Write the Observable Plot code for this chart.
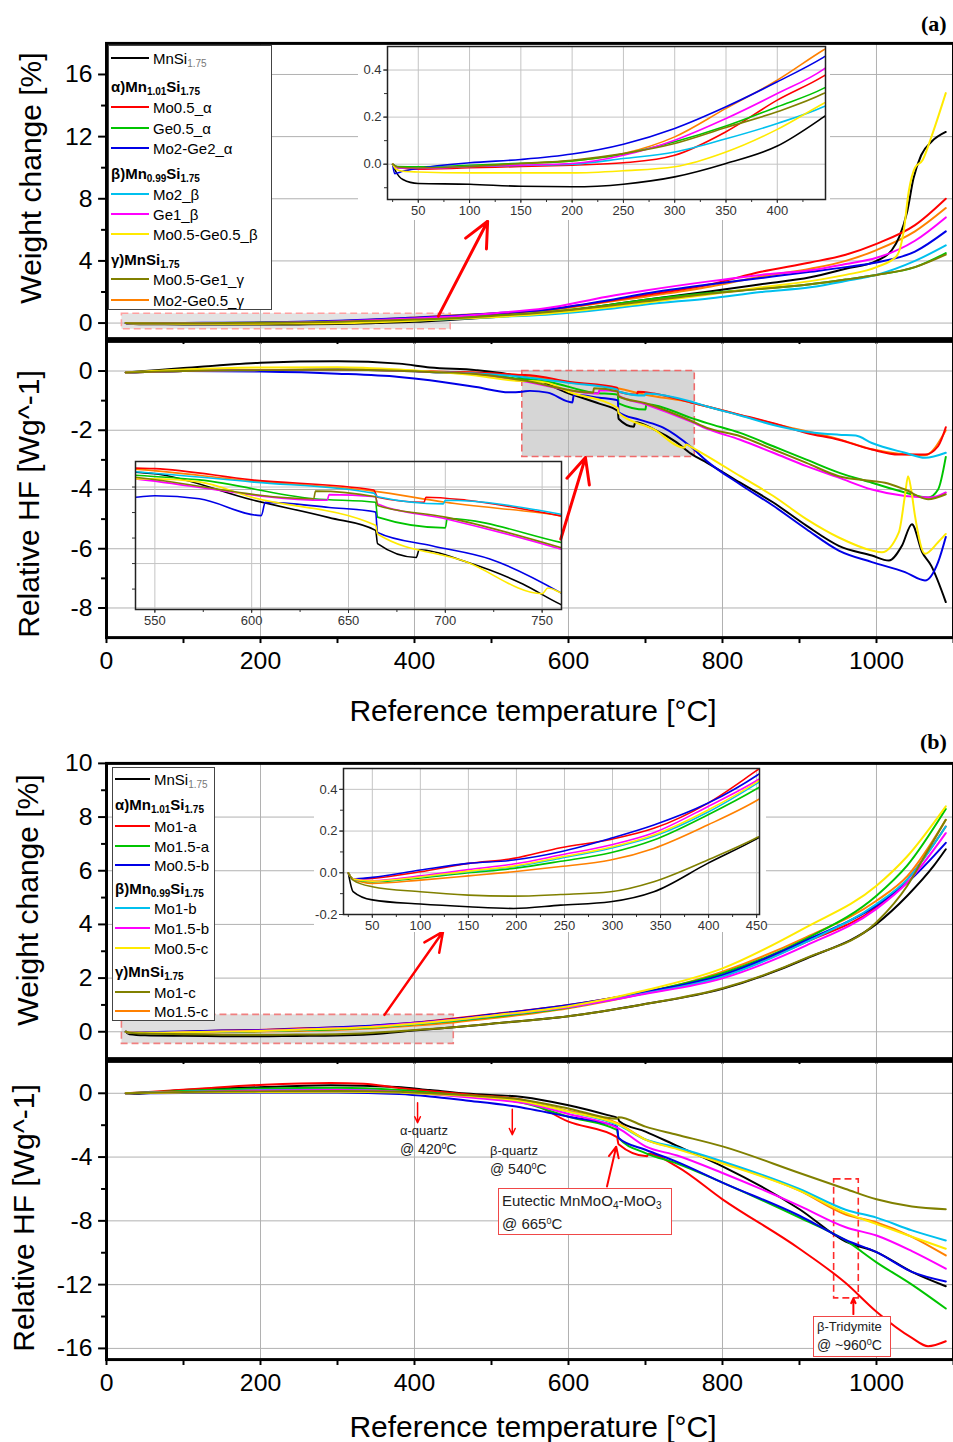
<!DOCTYPE html>
<html>
<head>
<meta charset="utf-8">
<script src="https://cdn.jsdelivr.net/npm/d3@7"></script>
<script src="https://cdn.jsdelivr.net/npm/@observablehq/plot@0.6"></script>
<style>
html,body{margin:0;padding:0;background:#fff;}
#fig{position:relative;width:953px;height:1442px;overflow:hidden;background:#fff;font-family:"Liberation Sans",Arial,sans-serif;color:#000;}
#fig > *{position:absolute;}
.ytitle{width:340px;height:36px;line-height:36px;text-align:center;font-size:30px;transform:rotate(-90deg);white-space:nowrap;}
.xtitle{width:500px;height:36px;line-height:36px;text-align:center;font-size:30px;white-space:nowrap;}
.tag{font-family:"Liberation Serif","Times New Roman",serif;font-weight:bold;font-size:22px;white-space:nowrap;}
.legend{background:#fff;border:1px solid #444;box-sizing:border-box;font-size:15px;}
.legend .row{position:absolute;left:0;height:20px;display:flex;align-items:center;white-space:nowrap;}
.legend .sw{height:0;border-top:2.5px solid;margin-left:2px;margin-right:4px;}
.legend .hdr{font-weight:bold;padding-left:2px;}
.legend sub{font-size:10px;vertical-align:-3px;line-height:0;}
.legend sub.g{color:#777;}
.ann{font-size:13px;line-height:19px;white-space:nowrap;color:#222;}
.ann sup{font-size:9px;vertical-align:5px;line-height:0;}
.ann sub{font-size:10px;vertical-align:-3px;line-height:0;}
.box{border:1px solid #f04848;box-sizing:border-box;padding-left:3px;background:#fff;}
</style>
</head>
<body>
<div id="fig"></div>
<script>
// ---------- series meta ----------
const COLORS = ["#000000","#ff0000","#00c400","#0000e6","#00c0ee","#ff00ff","#ffea00","#808000","#ff8000"];
const NAMES_A = ["MnSi","Mo0.5_α","Ge0.5_α","Mo2-Ge2_α","Mo2_β","Ge1_β","Mo0.5-Ge0.5_β","Mo0.5-Ge1_γ","Mo2-Ge0.5_γ"];
const NAMES_B = ["MnSi","Mo1-a","Mo1.5-a","Mo0.5-b","Mo1-b","Mo1.5-b","Mo0.5-c","Mo1-c","Mo1.5-c"];
const GROUPS = ["α)Mn<sub>1.01</sub>Si<sub>1.75</sub>","β)Mn<sub>0.99</sub>Si<sub>1.75</sub>","γ)MnSi<sub>1.75</sub>"];
const TEMP_TICKS = [0,200,400,600,800,1000];

// ---------- (a) weight change [%] : [T, value] ----------
const weightA = [
 [[25,0],[28,-0.03],[35,-0.065],[50,-0.082],[100,-0.085],[150,-0.094],[200,-0.096],[250,-0.085],[300,-0.054],[350,0.003],[400,0.077],[445,0.2],[500,0.38],[570,0.65],[650,1.15],[700,1.5],[785,2.05],[850,2.5],[914,2.95],[960,3.5],[1000,4.0],[1020,4.7],[1030,5.6],[1040,7.2],[1048,9.3],[1058,10.8],[1072,11.7],[1090,12.3]],
 [[25,0],[30,-0.015],[50,-0.021],[100,-0.015],[150,-0.01],[200,-0.004],[250,0.006],[300,0.038],[350,0.138],[400,0.272],[445,0.374],[500,0.55],[570,0.85],[650,1.4],[700,1.8],[785,2.5],[850,3.3],[914,3.9],[960,4.4],[1000,5.1],[1050,6.3],[1090,8.0]],
 [[25,0],[30,-0.01],[50,-0.011],[100,-0.005],[150,0.004],[200,0.014],[250,0.043],[300,0.095],[350,0.162],[400,0.244],[445,0.322],[500,0.48],[570,0.7],[650,1.15],[700,1.5],[785,1.95],[850,2.2],[914,2.5],[960,2.8],[1000,3.1],[1050,3.6],[1090,4.5]],
 [[25,0],[27,-0.04],[35,-0.03],[50,-0.018],[100,0.006],[150,0.02],[200,0.043],[250,0.085],[300,0.152],[350,0.244],[400,0.35],[445,0.454],[500,0.62],[570,0.85],[650,1.45],[700,1.9],[785,2.5],[850,2.9],[914,3.3],[960,3.6],[1000,3.9],[1050,4.6],[1090,5.9]],
 [[25,0],[30,-0.015],[50,-0.016],[100,-0.01],[150,-0.005],[200,0],[250,0.024],[300,0.052],[350,0.108],[400,0.173],[445,0.244],[500,0.38],[570,0.53],[650,0.9],[700,1.2],[785,1.6],[850,2.0],[914,2.3],[960,2.7],[1000,3.1],[1050,4.0],[1090,5.0]],
 [[25,0],[30,-0.015],[50,-0.018],[100,-0.01],[150,-0.004],[200,0.003],[250,0.038],[300,0.102],[350,0.194],[400,0.3],[445,0.403],[500,0.62],[570,0.95],[650,1.7],[700,2.1],[785,2.7],[850,3.1],[914,3.4],[960,3.8],[1000,4.2],[1050,5.3],[1090,6.8]],
 [[25,0],[28,-0.02],[35,-0.03],[50,-0.033],[100,-0.037],[150,-0.037],[200,-0.037],[250,-0.028],[300,-0.011],[350,0.052],[400,0.148],[445,0.258],[500,0.38],[570,0.6],[650,1.0],[700,1.3],[785,1.85],[850,2.3],[914,2.7],[960,3.1],[1000,3.6],[1026,4.3],[1035,5.8],[1042,8.5],[1050,10.0],[1060,10.5],[1070,11.8],[1090,14.8]],
 [[25,0],[30,-0.012],[50,-0.016],[100,-0.01],[150,0.003],[200,0.017],[250,0.045],[300,0.088],[350,0.156],[400,0.223],[445,0.3],[500,0.45],[570,0.7],[650,1.1],[700,1.4],[785,1.9],[850,2.2],[914,2.5],[960,2.8],[1000,3.1],[1050,3.6],[1090,4.4]],
 [[25,0],[30,-0.015],[50,-0.018],[100,-0.01],[150,0.003],[200,0.014],[250,0.045],[300,0.116],[350,0.237],[400,0.357],[445,0.485],[500,0.62],[570,0.8],[650,1.35],[700,1.7],[785,2.35],[850,3.0],[914,3.5],[960,4.0],[1000,4.7],[1050,5.9],[1090,7.4]]
];

// ---------- (a) relative heat flow [W/g] ----------
const heatA = [
 [[25,-0.05],[50,0],[100,0.1],[200,0.28],[300,0.33],[380,0.25],[420,0.12],[480,0.03],[520,-0.1],[540,-0.21],[550,-0.24],[600,-0.75],[640,-1.1],[664,-1.35],[665,-1.61],[685,-1.88],[686.5,-1.73],[711,-1.97],[740,-2.4],[759,-2.79],[780,-3.1],[823,-3.77],[866,-4.44],[909,-5.22],[951,-5.9],[994,-6.23],[1016,-6.4],[1033,-5.9],[1046,-5.17],[1059,-6.1],[1071,-6.57],[1090,-7.8]],
 [[25,-0.05],[100,0],[200,0.03],[300,0.05],[380,0.02],[420,-0.02],[480,-0.05],[540,-0.13],[550,-0.14],[600,-0.36],[663,-0.56],[665,-0.7],[689,-0.8],[690,-0.7],[711,-0.76],[759,-1.06],[780,-1.2],[823,-1.48],[866,-1.76],[909,-2.09],[951,-2.32],[994,-2.65],[1029,-2.82],[1063,-2.82],[1080,-2.54],[1090,-1.9]],
 [[25,-0.05],[100,0],[200,0.03],[300,0.04],[380,0.01],[420,-0.03],[480,-0.1],[540,-0.27],[573,-0.36],[632,-0.73],[664,-0.8],[665,-1.09],[700,-1.3],[701,-1.12],[759,-1.58],[780,-1.76],[823,-2.09],[866,-2.54],[909,-2.99],[951,-3.43],[994,-3.77],[1037,-4.1],[1067,-4.27],[1080,-4.0],[1090,-2.9]],
 [[25,-0.05],[100,0],[200,-0.02],[300,-0.09],[380,-0.2],[420,-0.31],[480,-0.54],[523,-0.72],[540,-0.7],[550,-0.67],[573,-0.73],[605,-1.06],[607,-0.8],[640,-0.9],[664,-0.99],[665,-1.39],[693,-1.65],[723,-1.91],[759,-2.56],[780,-3.05],[823,-3.83],[866,-4.55],[909,-5.34],[951,-6.06],[994,-6.45],[1037,-6.79],[1063,-7.07],[1080,-6.45],[1090,-5.6]],
 [[25,-0.05],[100,0],[200,0.03],[300,0.05],[380,0.02],[420,-0.03],[480,-0.08],[540,-0.2],[600,-0.4],[663,-0.62],[665,-0.69],[699,-0.83],[700,-0.76],[759,-1.03],[780,-1.2],[823,-1.5],[866,-1.82],[909,-2.05],[951,-2.15],[973,-2.18],[994,-2.43],[1037,-2.76],[1063,-2.93],[1090,-2.76]],
 [[25,-0.05],[100,0],[200,0.03],[300,0.04],[380,0.01],[420,-0.03],[480,-0.1],[540,-0.34],[639,-0.76],[640,-0.65],[664,-0.69],[665,-0.83],[700,-1.12],[759,-1.71],[780,-1.95],[823,-2.32],[866,-2.76],[909,-3.21],[951,-3.6],[994,-4.0],[1037,-4.22],[1071,-4.27],[1090,-4.1]],
 [[25,-0.05],[100,0.05],[200,0.12],[300,0.13],[380,0.05],[420,-0.02],[480,-0.15],[540,-0.34],[550,-0.34],[573,-0.4],[600,-0.7],[664,-1.25],[665,-1.42],[711,-1.97],[750,-2.59],[753,-2.48],[759,-2.56],[780,-2.87],[823,-3.55],[866,-4.22],[909,-5.0],[951,-5.62],[994,-6.06],[1007,-6.12],[1029,-5.45],[1037,-4.2],[1041,-3.55],[1045,-4.0],[1050,-4.89],[1063,-6.17],[1080,-5.78],[1090,-5.5]],
 [[25,-0.05],[100,0],[200,0.03],[300,0.04],[380,0.01],[420,-0.03],[480,-0.1],[540,-0.31],[632,-0.73],[633,-0.58],[664,-0.69],[665,-0.86],[700,-1.09],[759,-1.68],[780,-1.92],[823,-2.2],[866,-2.65],[909,-3.1],[951,-3.55],[994,-3.71],[1011,-3.77],[1037,-4.0],[1067,-4.33],[1090,-4.16]],
 [[25,-0.05],[100,0],[200,0.03],[300,0.05],[380,0.02],[420,-0.02],[480,-0.06],[540,-0.15],[600,-0.38],[663,-0.58],[700,-0.8],[759,-1.06],[780,-1.2],[866,-1.78],[951,-2.3],[994,-2.64],[1063,-2.84],[1090,-2.0]]
];

// ---------- (b) weight change [%] ----------
const weightB = [
 [[25,0],[30,-0.09],[50,-0.13],[100,-0.15],[150,-0.163],[197,-0.171],[246,-0.155],[298,-0.139],[343,-0.091],[399,0.045],[451,0.165],[500,0.3],[600,0.58],[693,1.0],[800,1.6],[909,2.73],[1000,4.02],[1040,5.07],[1074,6.17],[1090,6.8]],
 [[25,0],[30,-0.03],[50,-0.027],[100,0.005],[150,0.045],[197,0.069],[246,0.12],[298,0.16],[343,0.213],[399,0.333],[451,0.493],[500,0.65],[600,1.0],[693,1.45],[800,2.09],[909,3.35],[1000,4.64],[1040,5.68],[1090,7.65]],
 [[25,0],[30,-0.03],[50,-0.043],[100,-0.025],[150,0.0],[197,0.021],[246,0.055],[298,0.096],[343,0.157],[399,0.277],[451,0.405],[500,0.55],[600,0.9],[693,1.44],[800,2.18],[909,3.47],[1000,5.07],[1040,6.2],[1090,8.3]],
 [[25,0],[30,-0.03],[50,-0.022],[100,0.013],[150,0.045],[197,0.061],[246,0.101],[298,0.165],[343,0.229],[399,0.333],[451,0.469],[500,0.64],[600,1.0],[693,1.45],[800,2.12],[909,3.41],[1000,4.7],[1040,5.56],[1090,7.04]],
 [[25,0],[30,-0.03],[50,-0.04],[100,-0.02],[150,0.005],[197,0.029],[246,0.07],[298,0.118],[343,0.175],[399,0.29],[451,0.43],[500,0.58],[600,0.92],[693,1.4],[800,2.05],[909,3.35],[1000,4.76],[1040,5.68],[1090,7.65]],
 [[25,0],[30,-0.03],[50,-0.038],[100,-0.015],[150,0.015],[197,0.042],[246,0.085],[298,0.133],[343,0.192],[399,0.317],[451,0.445],[500,0.6],[600,0.92],[693,1.38],[800,1.99],[909,3.22],[1000,4.58],[1040,5.56],[1090,7.4]],
 [[25,0],[30,-0.03],[50,-0.04],[100,-0.02],[150,0.008],[197,0.032],[246,0.075],[298,0.122],[343,0.181],[399,0.3],[451,0.437],[500,0.6],[600,0.95],[693,1.5],[800,2.36],[909,3.9],[1000,5.44],[1040,6.54],[1090,8.4]],
 [[25,0],[30,-0.035],[50,-0.067],[100,-0.091],[150,-0.107],[197,-0.112],[246,-0.104],[298,-0.091],[343,-0.043],[399,0.061],[451,0.17],[500,0.3],[600,0.58],[693,1.0],[800,1.62],[909,2.75],[1000,4.08],[1040,5.44],[1065,6.67],[1090,7.9]],
 [[25,0],[30,-0.03],[50,-0.051],[100,-0.035],[150,-0.015],[197,0.005],[246,0.03],[298,0.061],[343,0.117],[399,0.229],[451,0.349],[500,0.5],[600,0.88],[693,1.4],[800,2.24],[909,3.53],[1000,4.88],[1040,5.8],[1090,7.9]]
];

// ---------- (b) relative heat flow [W/g] ----------
const heatB = [
 [[25,0],[35,-0.03],[100,0.2],[205,0.39],[291,0.5],[377,0.4],[420,0.2],[467,-0.02],[540,-0.23],[600,-0.75],[651,-1.37],[664,-1.55],[666,-1.75],[700,-2.4],[741,-3.3],[800,-4.58],[900,-7.27],[960,-9.3],[1000,-9.96],[1046,-11.2],[1090,-12.1]],
 [[25,0],[60,0.1],[120,0.29],[205,0.54],[291,0.64],[334,0.6],[377,0.35],[420,0.14],[480,-0.12],[540,-0.4],[600,-1.78],[663,-2.75],[665,-3.2],[702,-3.95],[704,-3.79],[741,-4.6],[800,-6.65],[900,-9.75],[960,-11.9],[1000,-13.7],[1046,-15.34],[1067,-15.86],[1090,-15.55]],
 [[25,0],[100,0.15],[200,0.3],[300,0.35],[380,0.2],[420,0.05],[480,-0.2],[540,-0.6],[600,-1.47],[663,-2.3],[665,-2.8],[700,-3.75],[741,-4.4],[800,-5.6],[900,-7.8],[960,-9.23],[1000,-10.6],[1046,-12.0],[1090,-13.5]],
 [[25,0],[100,0.02],[200,0.05],[300,0.05],[380,-0.05],[420,-0.2],[467,-0.45],[527,-0.8],[600,-1.47],[663,-2.1],[665,-2.8],[700,-3.54],[741,-4.3],[800,-5.6],[900,-7.68],[960,-9.2],[1000,-9.96],[1046,-11.2],[1090,-11.8]],
 [[25,0],[100,0.1],[200,0.2],[300,0.22],[380,0.1],[420,-0.05],[480,-0.25],[540,-0.55],[600,-1.15],[665,-2.0],[700,-2.9],[741,-3.4],[800,-4.27],[900,-6.0],[960,-7.3],[1000,-7.8],[1046,-8.6],[1090,-9.23]],
 [[25,0],[100,0.08],[200,0.18],[300,0.2],[380,0.1],[420,-0.05],[480,-0.3],[540,-0.6],[600,-1.3],[665,-2.2],[700,-3.33],[741,-3.9],[800,-5.0],[900,-7.06],[960,-8.4],[1000,-8.92],[1046,-9.9],[1090,-11.0]],
 [[25,0],[100,0.05],[200,0.08],[300,0.1],[380,0.05],[420,-0.05],[480,-0.2],[540,-0.5],[600,-1.15],[665,-1.95],[700,-2.9],[741,-3.5],[800,-4.4],[900,-6.1],[960,-7.5],[1000,-8.2],[1046,-9.0],[1090,-9.75]],
 [[25,0],[100,0.08],[200,0.12],[300,0.15],[380,0.1],[420,0.0],[480,-0.15],[540,-0.4],[600,-0.95],[663,-1.6],[665,-1.5],[700,-2.09],[741,-2.6],[800,-3.33],[900,-5.0],[960,-6.0],[1000,-6.65],[1046,-7.1],[1090,-7.27]],
 [[25,0],[100,0.12],[200,0.25],[300,0.28],[380,0.15],[420,0.0],[480,-0.2],[540,-0.5],[600,-1.1],[665,-1.9],[700,-2.9],[741,-3.45],[800,-4.35],[900,-6.1],[960,-7.6],[1000,-8.1],[1046,-9.0],[1090,-10.17]]
];

// ---------- annotation anchors (data coordinates) ----------
const zoomRegions = {
  aW: {x1:20, x2:447, y1:-0.4, y2:0.6, fill:"#c8c8c8", fo:0.5, stroke:"#ffa0a0"},
  aH: {x1:540, x2:764, y1:-2.9, y2:0, fill:"#b4b4b4", fo:0.55, stroke:"#f06a6a"},
  bW: {x1:20, x2:451, y1:-0.45, y2:0.63, fill:"#c0c0c0", fo:0.5, stroke:"#f08080"},
  bH: {x1:945, x2:977, y1:-12.86, y2:-5.4, fill:"none", fo:1, stroke:"#ff2a2a"}
};
const arrowsA_W = [{x1:431, y1:0.45, x2:495, y2:6.55, w:3, head:14}];
const arrowsA_H = [{x1:590, y1:-5.67, x2:622, y2:-2.92, w:3, head:14}];
const arrowsB_W = [{x1:361, y1:0.63, x2:437, y2:3.73, w:2.5, head:13}];
const arrowsB_H = [
  {x1:404, y1:-0.6, x2:404, y2:-1.85, w:1.5, head:7},
  {x1:527, y1:-1.0, x2:527, y2:-2.6, w:1.5, head:7},
  {x1:650, y1:-5.84, x2:662, y2:-3.35, w:2, head:9},
  {x1:970, y1:-13.85, x2:970, y2:-12.86, w:2, head:7}
];
const notesB_H = [
  {T:377, v:-1.75, cls:"ann", html:"α-quartz<br><span style='font-size:14px'>@ 420<sup>0</sup>C</span>"},
  {T:493, v:-2.95, cls:"ann", html:"β-quartz<br><span style='font-size:14px'>@ 540<sup>0</sup>C</span>"},
  {T:503, v:-5.9, cls:"ann box", w:174, h:47, html:"<span style='font-size:15px;line-height:23px'>Eutectic MnMoO<sub>4</sub>-MoO<sub>3</sub><br>@ 665<sup>0</sup>C</span>"},
  {T:908, v:-13.85, cls:"ann box", w:78, h:41, html:"β-Tridymite<br><span style='font-size:14px'>@ ~960<sup>0</sup>C</span>"}
];

// ---------- layout helpers ----------
const fig = document.getElementById("fig");
const X0 = 107, XMAX = 1100, PX_PER_C = 0.7775;
const W = X0 + Math.round(XMAX * PX_PER_C);
const FONT = "Liberation Sans, Arial, sans-serif";
const ORDER = [8,0,1,2,3,4,5,6,7];

function addAbs(el, left, top) { el.style.left = left + "px"; el.style.top = top + "px"; fig.appendChild(el); return el; }

function mainPanel(c) {
  const mt = 10, mb = c.xLabels ? 50 : 10;
  const h = c.bottom - c.top;
  const marks = [
    Plot.gridX({ticks: [200,400,600,800,1000], stroke: "#b0b0b0", strokeOpacity: 1}),
    Plot.gridY({ticks: c.yMajor, stroke: "#b0b0b0", strokeOpacity: 1})
  ];
  for (const r of c.rects) marks.push(Plot.rect([r], {x1: "x1", x2: "x2", y1: "y1", y2: "y2", fill: r.fill, fillOpacity: r.fo, stroke: r.stroke, strokeWidth: 1.6, strokeDasharray: "7,4"}));
  for (const i of ORDER) marks.push(Plot.line(c.data[i], {x: d => d[0], y: d => d[1], stroke: COLORS[i], strokeWidth: 2, curve: "monotone-x", clip: true}));
  for (const a of c.arrows) marks.push(Plot.arrow([a], {x1: "x1", y1: "y1", x2: "x2", y2: "y2", stroke: "#ff0000", strokeWidth: a.w, headLength: a.head, headAngle: 50}));
  marks.push(Plot.axisY({ticks: c.yMajor, tickSize: 8, tickPadding: 6, fontSize: 25, tickFormat: d => String(d), strokeWidth: 2, label: null}));
  marks.push(Plot.axisY({ticks: c.yMinor, tickSize: 5, tickFormat: () => "", strokeWidth: 2, label: null}));
  marks.push(Plot.axisX({ticks: d3.range(0, XMAX + 1, 100), tickSize: 6, tickFormat: () => "", strokeWidth: 2, label: null}));
  if (c.xLabels) marks.push(Plot.axisX({ticks: TEMP_TICKS, tickSize: 0, tickPadding: 14, fontSize: 25, tickFormat: d => String(d), label: null}));
  marks.push(Plot.frame({stroke: "#000", strokeWidth: 3}));
  const p = Plot.plot({
    width: W, height: h + mt + mb, marginLeft: X0, marginRight: 0, marginTop: mt, marginBottom: mb,
    x: {domain: [0, XMAX], axis: null}, y: {domain: c.yDomain, axis: null},
    style: {background: "transparent", fontFamily: FONT, color: "#000", overflow: "visible"},
    marks
  });
  addAbs(p, 0, c.top - mt);
  p.toPage = (T, v) => [p.scale("x").apply(T), c.top - mt + p.scale("y").apply(v)];
  return p;
}

function insetPanel(c) {
  const [fx0, fy0, fx1, fy1] = c.frame;
  const w = c.ml + (fx1 - fx0) + c.mr, h = c.mt + (fy1 - fy0) + c.mb;
  const fmt = d => d3.format(".1f")(d).replace("−", "-");
  const marks = [
    Plot.gridX({ticks: c.gridX, stroke: "#c4c4c4", strokeOpacity: 1}),
    Plot.gridY({ticks: c.gridY, stroke: "#c4c4c4", strokeOpacity: 1})
  ];
  for (const i of ORDER) {
    const pts = c.data[i].filter(d => d[0] >= c.x[0] - 60 && d[0] <= c.x[1] + 60);
    marks.push(Plot.line(pts, {x: d => d[0], y: d => d[1], stroke: COLORS[i], strokeWidth: 1.6, curve: "monotone-x", clip: true}));
  }
  marks.push(Plot.axisX({ticks: c.xMinor, tickSize: 3, tickFormat: () => "", label: null}));
  marks.push(Plot.axisX({ticks: c.xLabels, tickSize: 4, tickPadding: 2, fontSize: 13, tickFormat: d => String(d), label: null}));
  marks.push(Plot.axisY({ticks: c.yMinor, tickSize: 3, tickFormat: () => "", label: null}));
  if (c.yLabels) marks.push(Plot.axisY({ticks: c.yLabels, tickSize: 4, tickPadding: 2, fontSize: 13, tickFormat: fmt, label: null}));
  marks.push(Plot.frame({stroke: "#222", strokeWidth: 1.5}));
  const p = Plot.plot({
    width: w, height: h, marginLeft: c.ml, marginRight: c.mr, marginTop: c.mt, marginBottom: c.mb,
    x: {domain: c.x, axis: null}, y: {domain: c.y, axis: null},
    style: {background: c.white ? "#fff" : "transparent", fontFamily: FONT, color: "#333", overflow: "visible"},
    marks
  });
  addAbs(p, fx0 - c.ml, fy0 - c.mt);
  return p;
}

function yTitle(text, cx, cy) {
  const d = document.createElement("div"); d.className = "ytitle"; d.innerHTML = text;
  addAbs(d, cx - 170, cy - 18);
}
function xTitle(text, cx, cy) {
  const d = document.createElement("div"); d.className = "xtitle"; d.innerHTML = text;
  addAbs(d, cx - 250, cy - 18);
}
function tag(text, left, top) {
  const d = document.createElement("div"); d.className = "tag"; d.textContent = text; addAbs(d, left, top);
}
function legend(left, top, w, h, swLen, names, rowsY) {
  const box = document.createElement("div"); box.className = "legend";
  box.style.width = w + "px"; box.style.height = h + "px";
  const seq = [["s",0],["g",0],["s",1],["s",2],["s",3],["g",1],["s",4],["s",5],["s",6],["g",2],["s",7],["s",8]];
  seq.forEach(([kind, k], j) => {
    const r = document.createElement("div"); r.className = "row";
    r.style.top = (rowsY[j] - top - 10) + "px";
    if (kind === "g") {
      r.innerHTML = `<span class="hdr">${GROUPS[k]}</span>`;
    } else {
      const label = k === 0 ? `${names[0]}<sub class="g">1.75</sub>` : names[k];
      r.innerHTML = `<span class="sw" style="width:${swLen}px;border-color:${COLORS[k]}"></span><span>${label}</span>`;
    }
    box.appendChild(r);
  });
  addAbs(box, left, top);
}

// ---------- panel (a) ----------
const pAW = mainPanel({data: weightA, yDomain: [-1, 18], yMajor: [0,4,8,12,16], yMinor: [2,6,10,14],
  top: 43, bottom: 341, xLabels: false, rects: [zoomRegions.aW], arrows: arrowsA_W});
const pAH = mainPanel({data: heatA, yDomain: [-9, 1], yMajor: [0,-2,-4,-6,-8], yMinor: [-1,-3,-5,-7],
  top: 341, bottom: 640, xLabels: true, rects: [zoomRegions.aH], arrows: arrowsA_H});

insetPanel({data: weightA, x: [20, 447], y: [-0.15, 0.5], frame: [387, 46, 825, 199], ml: 29, mr: 5, mt: 1, mb: 21, white: true,
  gridX: d3.range(50, 401, 50), gridY: [0, 0.2, 0.4], xMinor: d3.range(25, 446, 25), xLabels: d3.range(50, 401, 50),
  yMinor: [-0.1, 0, 0.1, 0.2, 0.3, 0.4], yLabels: [0, 0.2, 0.4]});
insetPanel({data: heatA, x: [540, 760], y: [-2.9, 0], frame: [135, 461, 561, 609], ml: 6, mr: 4, mt: 4, mb: 22, white: false,
  gridX: d3.range(550, 751, 50), gridY: [-0.5, -2], xMinor: d3.range(550, 760, 25), xLabels: d3.range(550, 751, 50),
  yMinor: [-0.5, -1, -1.5, -2, -2.5], yLabels: null});

legend(108, 45, 164, 265, 38, NAMES_A, [57,85,106,127,147,172,193,213,233,258,278,299]);
yTitle("Weight change [%]", 31, 178);
yTitle("Relative HF [Wg^-1]", 29, 504);
xTitle("Reference temperature [°C]", 533, 711);
tag("(a)", 921, 11);

// ---------- panel (b) ----------
const pBW = mainPanel({data: weightB, yDomain: [-1, 10], yMajor: [0,2,4,6,8,10], yMinor: [1,3,5,7,9],
  top: 763, bottom: 1061, xLabels: false, rects: [zoomRegions.bW], arrows: arrowsB_W});
const pBH = mainPanel({data: heatB, yDomain: [-16.7, 2], yMajor: [0,-4,-8,-12,-16], yMinor: [-2,-6,-10,-14],
  top: 1061, bottom: 1362, xLabels: true, rects: [zoomRegions.bH], arrows: arrowsB_H});

insetPanel({data: weightB, x: [20, 453], y: [-0.2, 0.5], frame: [343, 768, 759, 914], ml: 29, mr: 7, mt: 3, mb: 18, white: true,
  gridX: d3.range(50, 451, 50), gridY: [0, 0.2, 0.4], xMinor: d3.range(25, 451, 25), xLabels: d3.range(50, 451, 50),
  yMinor: [-0.1, 0, 0.1, 0.2, 0.3, 0.4], yLabels: [-0.2, 0, 0.2, 0.4]});

legend(112, 767, 103, 254, 35, NAMES_B, [778,803,825,845,864,887,907,927,947,970,991,1010]);
yTitle("Weight change [%]", 28, 900);
yTitle("Relative HF [Wg^-1]", 24, 1218);
xTitle("Reference temperature [°C]", 533, 1427);
tag("(b)", 920, 729);

for (const n of notesB_H) {
  const [x, y] = pBH.toPage(n.T, n.v);
  const d = document.createElement("div"); d.className = n.cls; d.innerHTML = n.html;
  if (n.w) { d.style.width = n.w + "px"; d.style.height = n.h + "px"; }
  addAbs(d, Math.round(x), Math.round(y));
}
</script>
</body>
</html>
